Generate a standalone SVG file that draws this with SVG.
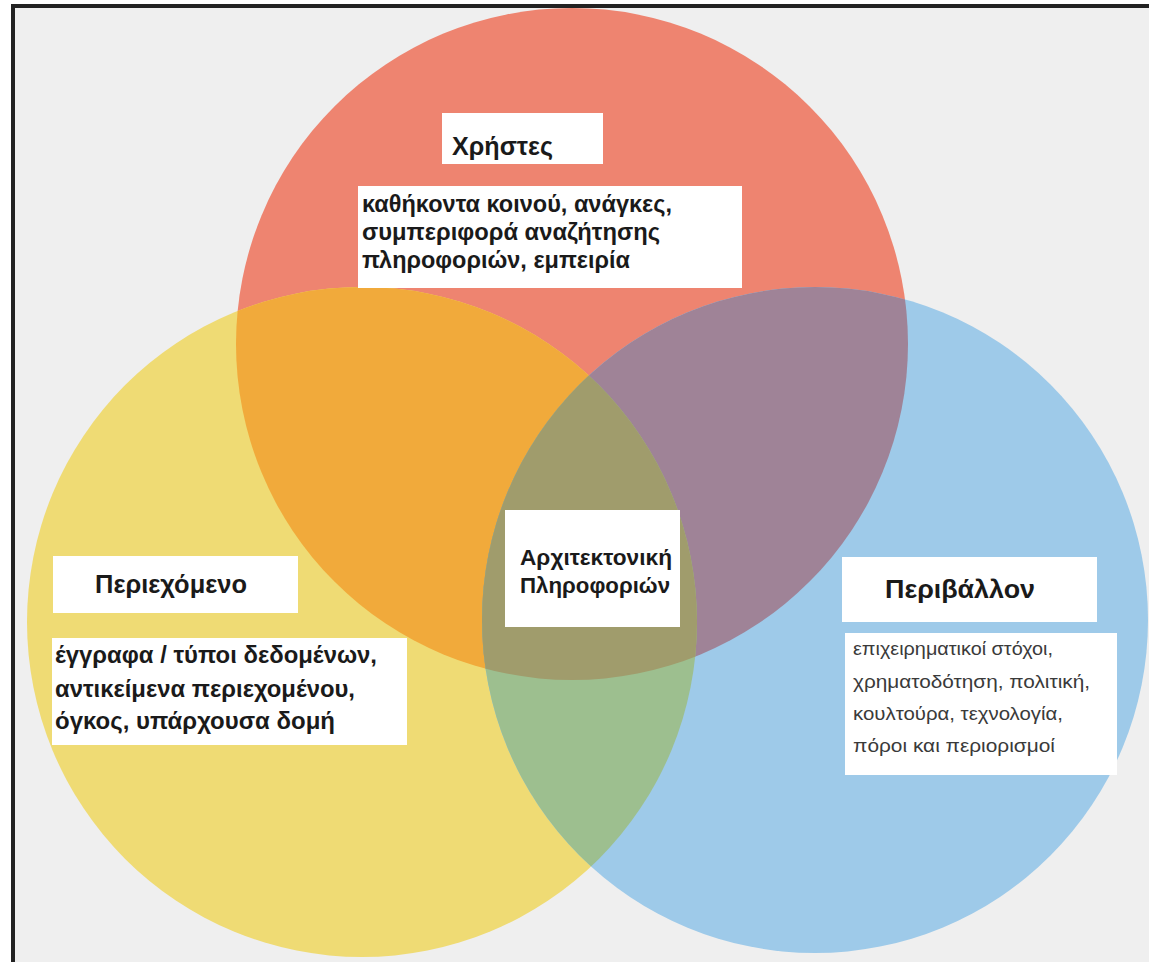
<svg xmlns="http://www.w3.org/2000/svg" width="1149" height="962" viewBox="0 0 1149 962">
<style>
.box{fill:#ffffff}
.h{font-family:"Liberation Sans",Arial,sans-serif;font-weight:bold;fill:#1a1a1a}
.b{font-family:"Liberation Sans",Arial,sans-serif;font-weight:bold;fill:#1a1a1a;font-size:23px}
.n{font-family:"Liberation Sans",Arial,sans-serif;fill:#3a3a3a;font-size:18px}
</style>
<defs>
<clipPath id="cRed"><circle cx="572" cy="344" r="336"/></clipPath>
<clipPath id="cYellow"><circle cx="362" cy="622" r="335"/></clipPath>
<clipPath id="cBlue"><circle cx="815" cy="620" r="333"/></clipPath>
</defs>
<rect x="0" y="0" width="1149" height="962" fill="#ffffff"/>
<rect x="13" y="6" width="1140" height="960" fill="#efefef"/>
<path d="M13,962 V6 H1149" fill="none" stroke="#222222" stroke-width="4"/>

<g id="circles">
<circle id="circle-users" cx="572" cy="344" r="336" fill="#ee8470"/>
<circle id="circle-content" cx="362" cy="622" r="335" fill="#efdb74"/>
<circle id="circle-context" cx="815" cy="620" r="333" fill="#9ecae9"/>
</g>
<g id="overlaps">
<circle cx="572" cy="344" r="336" fill="#f1aa3b" clip-path="url(#cYellow)"/>
<circle cx="572" cy="344" r="336" fill="#9f8397" clip-path="url(#cBlue)"/>
<circle cx="362" cy="622" r="335" fill="#9dbf8f" clip-path="url(#cBlue)"/>
<g clip-path="url(#cBlue)"><circle cx="572" cy="344" r="336" fill="#a09c6c" clip-path="url(#cYellow)"/></g>
</g>
<g id="connectors"/>

<g id="node-users">
<rect class="box" x="442" y="113" width="161" height="51"/>
<text class="h" x="452" y="155" font-size="26" textLength="101" lengthAdjust="spacingAndGlyphs">Χρήστες</text>
<rect class="box" x="358" y="186" width="384" height="102"/>
<text class="b" x="362" y="212" textLength="310" lengthAdjust="spacingAndGlyphs">καθήκοντα κοινού, ανάγκες,</text>
<text class="b" x="362" y="240" textLength="298" lengthAdjust="spacingAndGlyphs">συμπεριφορά αναζήτησης</text>
<text class="b" x="362" y="268" textLength="268" lengthAdjust="spacingAndGlyphs">πληροφοριών, εμπειρία</text>
</g>

<g id="node-content">
<rect class="box" x="53" y="556" width="245" height="57"/>
<text class="h" x="95" y="593" font-size="26" textLength="152" lengthAdjust="spacingAndGlyphs">Περιεχόμενο</text>
<rect class="box" x="52" y="638" width="355" height="107"/>
<text class="b" x="55" y="663" textLength="322" lengthAdjust="spacingAndGlyphs">έγγραφα / τύποι δεδομένων,</text>
<text class="b" x="55" y="697" textLength="300" lengthAdjust="spacingAndGlyphs">αντικείμενα περιεχομένου,</text>
<text class="b" x="55" y="729" textLength="280" lengthAdjust="spacingAndGlyphs">όγκος, υπάρχουσα δομή</text>
</g>

<g id="node-ia">
<rect class="box" x="505" y="510" width="175" height="117"/>
<text class="h" x="520" y="565" font-size="22" textLength="152" lengthAdjust="spacingAndGlyphs">Αρχιτεκτονική</text>
<text class="h" x="520" y="593" font-size="22" textLength="150" lengthAdjust="spacingAndGlyphs">Πληροφοριών</text>
</g>

<g id="node-context">
<rect class="box" x="842" y="557" width="255" height="65"/>
<text class="h" x="885" y="598" font-size="25" textLength="150" lengthAdjust="spacingAndGlyphs">Περιβάλλον</text>
<rect class="box" x="845" y="633" width="272" height="142"/>
<text class="n" x="853" y="655" textLength="200" lengthAdjust="spacingAndGlyphs">επιχειρηματικοί στόχοι,</text>
<text class="n" x="853" y="688" textLength="237" lengthAdjust="spacingAndGlyphs">χρηματοδότηση, πολιτική,</text>
<text class="n" x="853" y="720" textLength="210" lengthAdjust="spacingAndGlyphs">κουλτούρα, τεχνολογία,</text>
<text class="n" x="853" y="752" textLength="202" lengthAdjust="spacingAndGlyphs">πόροι και περιορισμοί</text>
</g>
</svg>
